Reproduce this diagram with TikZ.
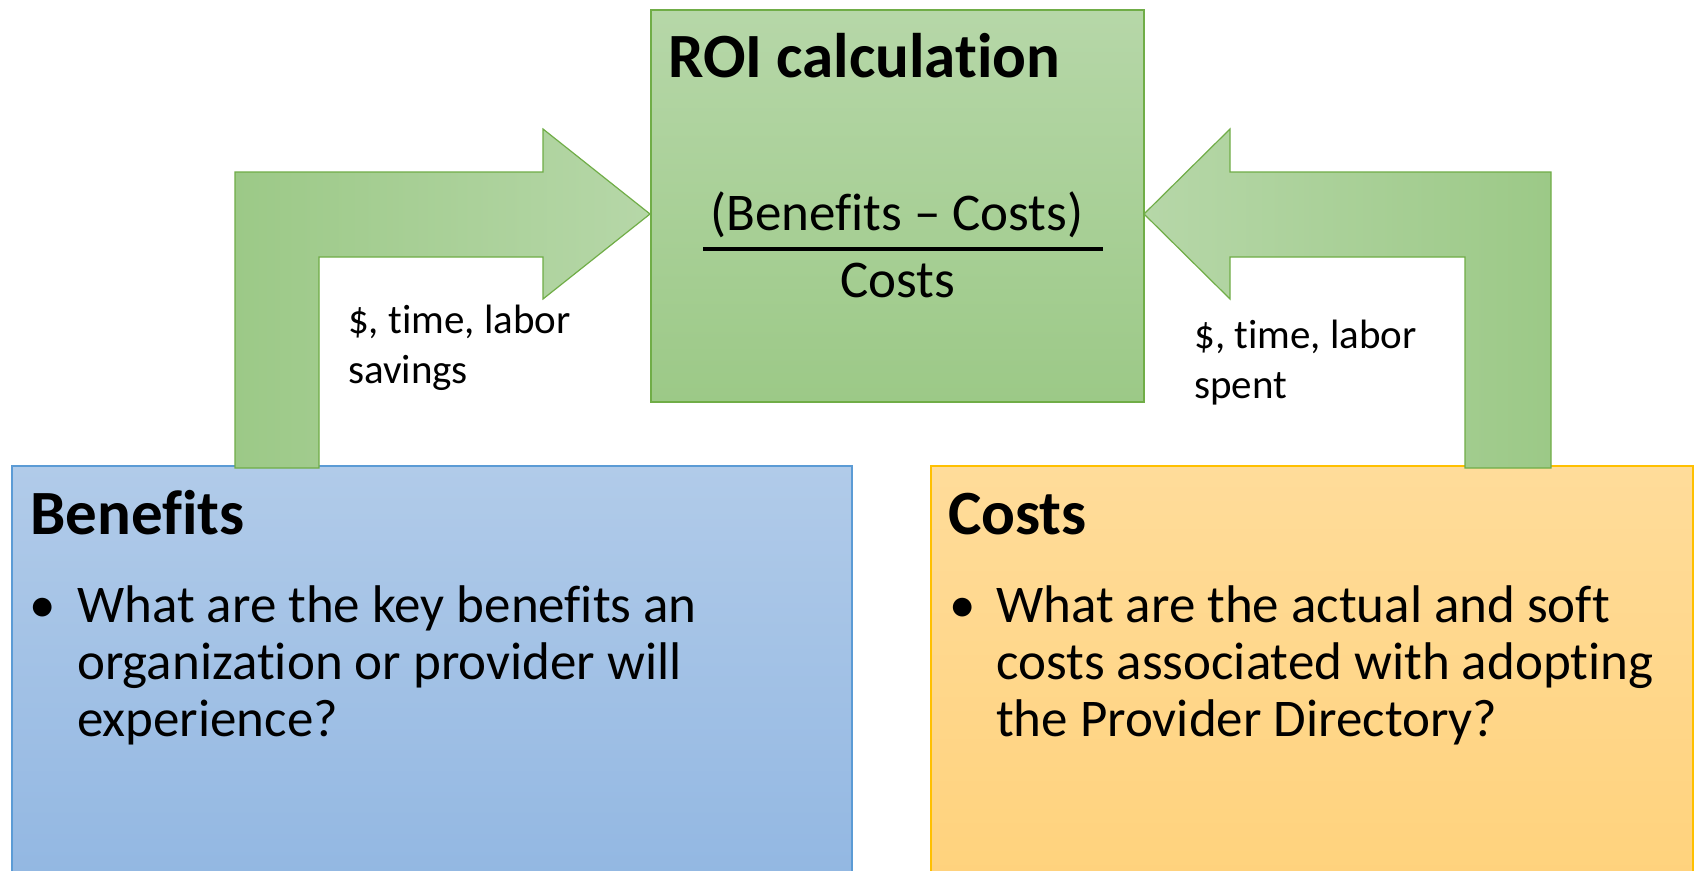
\documentclass[tikz,border=0pt]{standalone}
\usepackage{fontspec}
\setmainfont{Carlito}[Ligatures=NoCommon]
\usetikzlibrary{positioning}

\definecolor{grnline}{HTML}{70AD47}
\definecolor{grnlight}{HTML}{B6D7A8}
\definecolor{grndark}{HTML}{9CC987}
\definecolor{bluline}{HTML}{5B9BD5}
\definecolor{blulight}{HTML}{B1CBE9}
\definecolor{bludark}{HTML}{92B7E2}
\definecolor{goldline}{HTML}{FFC000}
\definecolor{goldlight}{HTML}{FFDC9A}
\definecolor{golddark}{HTML}{FFD27C}

\begin{document}
\begin{tikzpicture}[x=1pt,y=-1pt,
  box/.style={draw,line width=1.5pt,anchor=north west,inner sep=0pt},
  head/.style={font=\fontsize{63}{76}\selectfont\bfseries,anchor=base west,inner sep=0pt},
  item/.style={font=\fontsize{53}{57}\selectfont,align=left,anchor=base west,inner sep=0pt},
  lbl/.style={font=\fontsize{41}{50}\selectfont,align=left,anchor=base west,inner sep=0pt},
  bent/.style={draw=grnline,line width=1.2pt,line join=miter}]
\useasboundingbox (0,0) rectangle (1696,870);
\clip (0,0) rectangle (1696,870);
\fill[white] (0,0) rectangle (1696,870);

% the three boxes
\node[box,draw=grnline,top color=grnlight,bottom color=grndark,
  minimum width=493pt,minimum height=392pt] (roi) at (650,9) {};
\node[box,draw=bluline,top color=blulight,bottom color=bludark,
  minimum width=840pt,minimum height=420pt] (benefits) at (11,465) {};
\node[box,draw=goldline,top color=goldlight,bottom color=golddark,
  minimum width=762pt,minimum height=420pt] (costs) at (930,465) {};

% bent arrows into the calculation
\path[bent,left color=grndark,right color=grnlight]
  (235,468) -- (235,172) -- (543,172) -- (543,129) -- (650,214)
  -- (543,299) -- (543,257) -- (319,257) -- (319,468) -- cycle;
\path[bent,left color=grnlight,right color=grndark]
  (1551,468) -- (1551,172) -- (1230,172) -- (1230,129) -- (1144,214)
  -- (1230,299) -- (1230,257) -- (1465,257) -- (1465,468) -- cycle;

% calculation
\node[head] (roititle) at (668,77) {ROI calculation};
\node[font=\fontsize{53}{57}\selectfont,anchor=base,inner sep=0pt] (num) at (897,230) {(Benefits -- Costs)};
\draw[line width=4pt] (703,249) -- (1103,249);
\node[font=\fontsize{53}{57}\selectfont,anchor=base,inner sep=0pt] (den) at (898,297) {Costs};

% arrow labels (base = last line)
\node[lbl] (gain) at (348,383) {\$, time, labor\\savings};
\node[lbl] (spend) at (1194,398) {\$, time, labor\\spent};

% box texts
\node[head] (bentitle) at (30,534) {Benefits};
\node[item] (benbul) at (29,622) {\textbullet};
\node[item] (bentext) at (77,736) {What are the key benefits an\\organization or provider will\\experience?};
\node[head] (costtitle) at (948,534) {Costs};
\node[item] (costbul) at (949,622) {\textbullet};
\node[item] (costtext) at (996,736) {What are the actual and soft\\costs associated with adopting\\the Provider Directory?};
\end{tikzpicture}
\end{document}
